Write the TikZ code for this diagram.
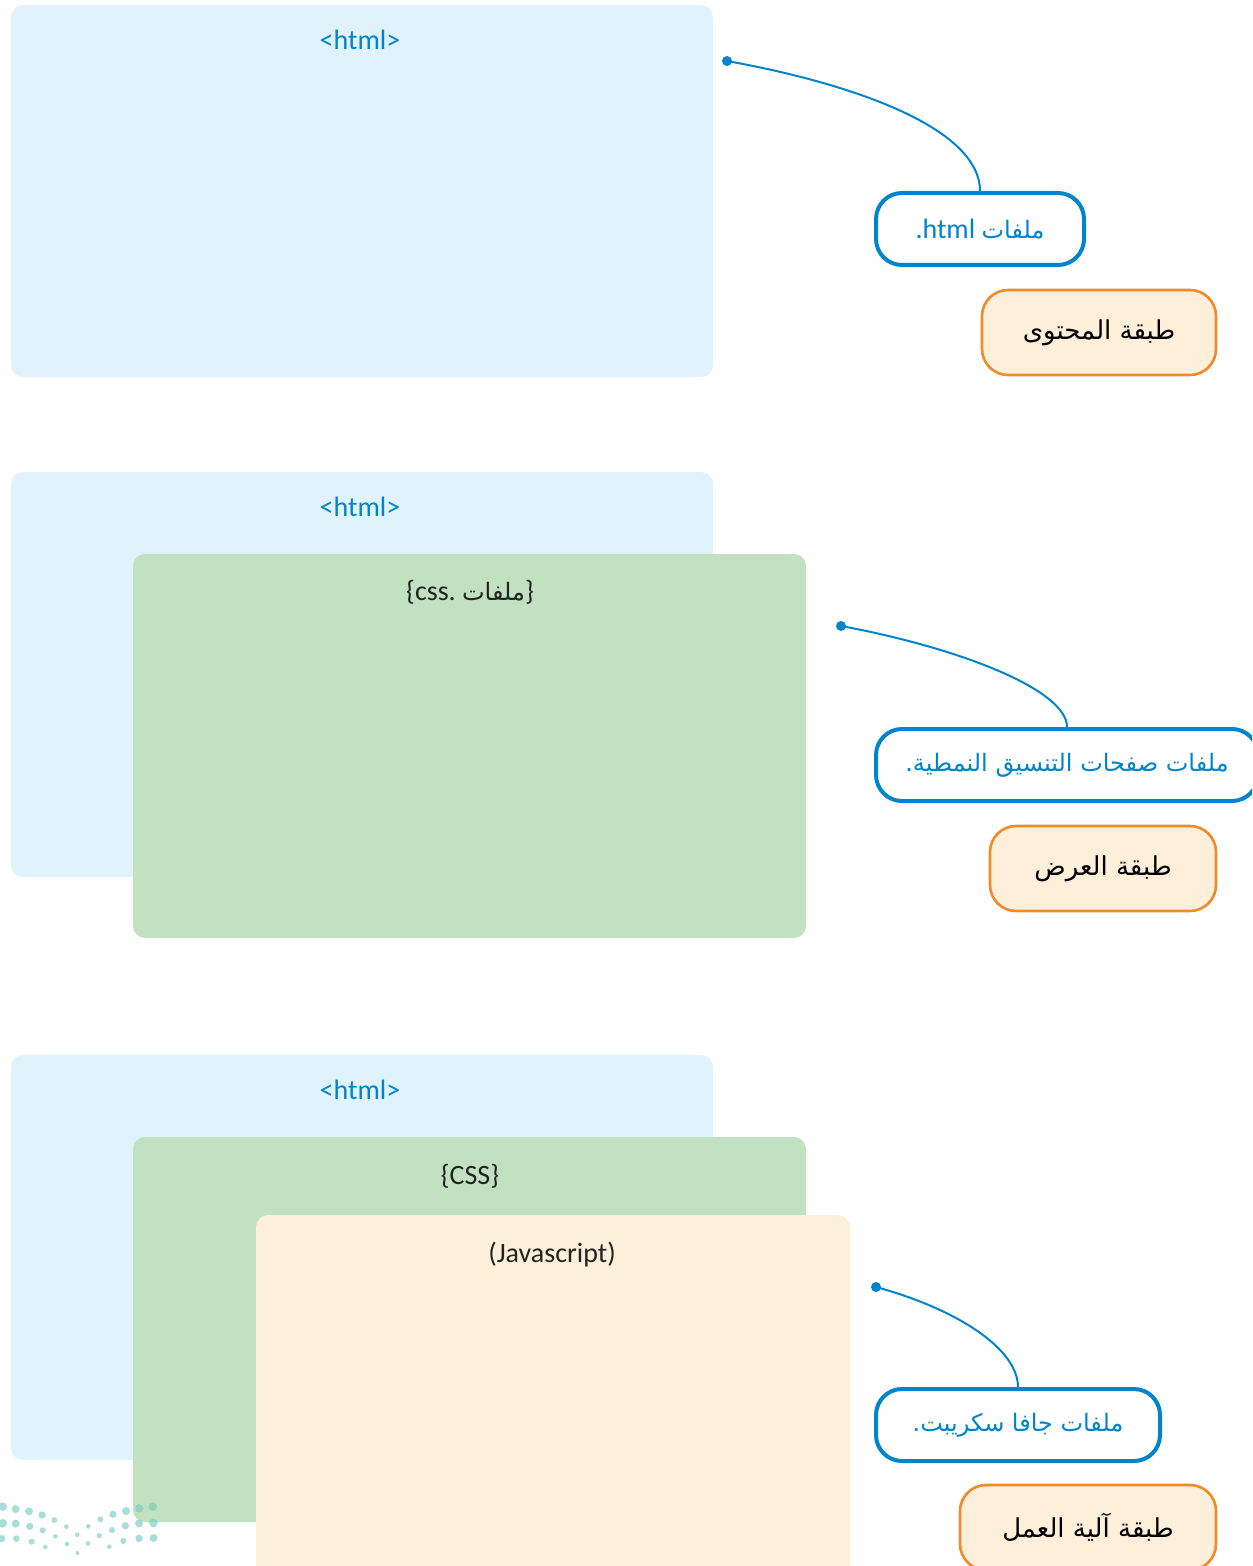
\documentclass[tikz,border=0pt]{standalone}
\usepackage{fontspec}
\setmainfont{Carlito}
\newfontfamily\arabicfont[Script=Arabic]{DejaVu Sans}
\TeXXeTstate=1
\definecolor{pblue}{RGB}{224,243,251}
\definecolor{pgreen}{RGB}{194,225,192}
\definecolor{pcream}{RGB}{253,240,218}
\definecolor{lblue}{RGB}{0,132,204}
\definecolor{lorange}{RGB}{240,138,42}
\definecolor{ofill}{RGB}{253,239,217}
\definecolor{dotc}{RGB}{120,205,190}
\definecolor{tdark}{RGB}{35,35,35}
\tikzset{
  panel/.style={rounded corners=6pt},
  callout/.style={draw=lblue,line width=2pt,rounded corners=13pt,fill=white,text=lblue,inner sep=0pt,minimum height=36pt},
  layerbox/.style={draw=lorange,line width=1.3pt,rounded corners=13pt,fill=ofill,text=black,inner sep=0pt,minimum height=42.5pt},
  conn/.style={draw=lblue,line width=1pt},
  dotmark/.style={fill=lblue},
  ptxt/.style={inner sep=0pt,font=\fontsize{14}{16}\selectfont},
}
\newcommand{\ar}[1]{{\arabicfont\beginR #1\endR}}
\begin{document}
\begin{tikzpicture}[x=0.5pt,y=-0.5pt]
\useasboundingbox (0,0) rectangle (1252,1566);
\clip (0,0) rectangle (1252,1566);
% panel 1
\fill[pblue,panel] (11,5) rectangle (713,377);
\node[ptxt,text=lblue] (h1) at (360,40) {<html>};
% panel 2
\fill[pblue,panel] (11,472) rectangle (713,877);
\node[ptxt,text=lblue] (h2) at (360,507) {<html>};
\fill[pgreen,panel] (133,554) rectangle (806,938);
\node[ptxt,text=tdark] (g2) at (470,592) {\{css.\ \ar{\fontsize{12}{14}\selectfont ملفات}\}};
% panel 3
\fill[pblue,panel] (11,1055) rectangle (713,1460);
\node[ptxt,text=lblue] (h3) at (360,1090) {<html>};
\fill[pgreen,panel] (133,1137) rectangle (806,1522);
\node[ptxt,text=tdark] (g3) at (470,1176) {\{CSS\}};
\fill[pcream,panel] (256,1215) rectangle (850,1600);
\node[ptxt,text=tdark] (j3) at (552,1255) {(Javascript)};
% dots decoration
\foreach \x/\y/\r in {8/50/13,47/57/12,87/64/12,126/75/11,163/90/9,199/110/7,265/109/7,301/88/9,339/73/11,378/63/12,418/55/13,458/50/13,
8/100/13,47/101/12,89/109/11,128/121/9,166/139/7,232/134/7,298/137/8,336/120/9,376/107/11,417/100/12,460/99/13,
5/146/11,49/146/10,95/155/9,136/171/7,201/162/7,232/189/6,264/160/7,328/170/7,370/153/9,417/145/11,461/144/12}
  \fill[dotc,opacity=0.65] (\x/3,1490+\y/3) circle[radius=\r/3];
% callouts
\node[callout,minimum width=104pt,font=\fontsize{14}{16}\selectfont] (c1) at (980,229) {.html\ \ar{\fontsize{12}{14}\selectfont ملفات}};
\node[layerbox,minimum width=117pt,font=\arabicfont\fontsize{13}{15}\selectfont] (o1) at (1099,332.5) {\ar{طبقة المحتوى}};
\node[callout,minimum width=191pt,font=\arabicfont\fontsize{12}{14}\selectfont] (c2) at (1067,765) {\ar{ملفات صفحات التنسيق النمطية.}};
\node[layerbox,minimum width=113pt,font=\arabicfont\fontsize{13}{15}\selectfont] (o2) at (1103,868.5) {\ar{طبقة العرض}};
\node[callout,minimum width=142pt,font=\arabicfont\fontsize{12}{14}\selectfont] (c3) at (1018,1425) {\ar{ملفات جافا سكريبت.}};
\node[layerbox,minimum width=128pt,font=\arabicfont\fontsize{13}{15}\selectfont] (o3) at (1088,1527.5) {\ar{طبقة آلية العمل}};
% connectors
\coordinate (d1) at (727,61);
\coordinate (d2) at (841,626);
\coordinate (d3) at (876,1287);
\fill[dotmark] (d1) circle[radius=2.5pt];
\fill[dotmark] (d2) circle[radius=2.5pt];
\fill[dotmark] (d3) circle[radius=2.5pt];
\draw[conn] (d1) .. controls (860,85) and (980,130) .. (c1.north);
\draw[conn] (d2) .. controls (960,648) and (1067,690) .. (c2.north);
\draw[conn] (d3) .. controls (960,1310) and (1018,1350) .. (c3.north);
\end{tikzpicture}
\end{document}
